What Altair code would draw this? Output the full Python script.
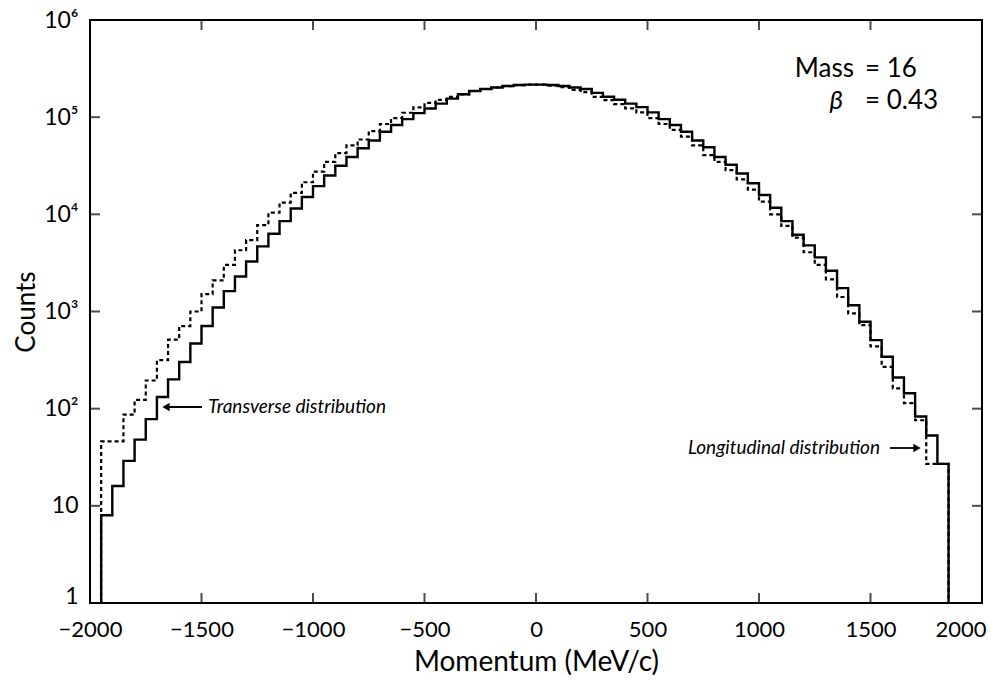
import altair as alt
import pandas as pd

# ---- data (counts per 50 MeV/c bin) ----
bin_start = -1950
bin_width = 50
transverse = [8, 16, 29, 48, 78, 132, 200, 302, 468, 708,
              1100, 1620, 2290, 3270, 4680, 6310, 8510, 11500, 15100, 19500,
              25100, 31600, 38900, 47900, 57500, 70800, 83200, 95500, 110000, 123000,
              138000, 155000, 172000, 186000, 195000, 202000, 209000, 214000, 216000, 216000,
              214000, 209000, 202000, 195000, 178000, 162000, 151000, 138000, 127000, 112000,
              95500, 83200, 70800, 57500, 49000, 38900, 32400, 26300, 20900, 15800,
              11700, 8510, 6170, 4790, 3610, 2630, 1740, 1160, 783, 508,
              342, 209, 144, 83, 53, 27]
longitudinal = [46, 46, 87, 123, 195, 316, 513, 708, 1000, 1510,
                2090, 3020, 4270, 5430, 7760, 10400, 13200, 16600, 21400, 27500,
                34700, 42700, 51300, 58900, 71800, 85100, 97700, 111000, 126000, 140000,
                151000, 162000, 172000, 186000, 195000, 202000, 209000, 214000, 216000, 216000,
                211000, 204000, 191000, 181000, 162000, 150000, 136000, 123000, 112000, 97700,
                85100, 74100, 63100, 51300, 40700, 34700, 28500, 22900, 18000, 13500,
                10000, 7590, 5750, 4070, 3020, 2140, 1410, 955, 724, 437,
                269, 162, 114, 76, 27, 27]
x_ticks = [-2000, -1500, -1000, -500, 0, 500, 1000, 1500, 2000]
y_ticks = [1, 10, 100, 1000, 10000, 100000, 1000000]
baseline = 1

FONT = "Lato"
W, H = 892, 583


def step_rows(values, name):
    rows = [{"p": bin_start, "c": baseline, "s": name, "o": 0}]
    for i, v in enumerate(values):
        rows.append({"p": bin_start + i * bin_width, "c": v, "s": name, "o": i + 1})
    rows.append({"p": bin_start + len(values) * bin_width, "c": baseline, "s": name,
                 "o": len(values) + 1})
    return rows


df = pd.DataFrame(step_rows(transverse, "Transverse") + step_rows(longitudinal, "Longitudinal"))

xs = alt.Scale(domain=[-2000, 2000], nice=False, zero=False)
ys = alt.Scale(type="log", domain=[1, 1000000], nice=False)

x_axis = alt.Axis(values=x_ticks, format="d", tickSize=0, domain=False, grid=False,
                  labelFont=FONT, labelFontSize=22, labelColor="black", labelPadding=16,
                  labelAlign={"condition": {"test": "datum.value == 2000", "value": "right"},
                              "value": "center"},
                  labelOffset={"condition": {"test": "datum.value == 2000", "value": 4},
                               "value": 0},
                  title="Momentum  (MeV/c)", titleFont=FONT, titleFontSize=28,
                  titleFontWeight="normal", titleColor="black", titlePadding=8)
y_axis = alt.Axis(values=y_ticks, tickSize=0, domain=False, grid=False,
                  labelFont=FONT, labelFontSize=23, labelColor="black", labelPadding=12,
                  labelBaseline={"condition": {"test": "datum.value == 1", "value": "alphabetic"},
                                 "value": "middle"},
                  labelExpr="datum.value < 50 ? datum.label : '10' + ['', '', '²', '³', '⁴', '⁵', '⁶'][round(log(datum.value) / LN10)]",
                  title="Counts", titleFont=FONT, titleFontSize=26,
                  titleFontWeight="normal", titleColor="black", titlePadding=4)

X = alt.X("p:Q", scale=xs, axis=x_axis)
Y = alt.Y("c:Q", scale=ys, axis=y_axis)

trans = alt.Chart(df).transform_filter("datum.s == 'Transverse'").mark_line(
    interpolate="step-after", color="black", strokeWidth=2.4
).encode(x=X, y=Y, order="o:Q")

longi = alt.Chart(df).transform_filter("datum.s == 'Longitudinal'").mark_line(
    interpolate="step-after", color="black", strokeWidth=2.2, strokeDash=[4, 3]
).encode(x=X, y=Y, order="o:Q")

# inward tick marks on all four sides
xt = pd.DataFrame({"p": x_ticks})
yt = pd.DataFrame({"c": y_ticks})
tick_b = alt.Chart(xt).mark_tick(orient="vertical", size=10, thickness=2, color="black").encode(
    x=X, y=alt.value(H - 5))
tick_t = alt.Chart(xt).mark_tick(orient="vertical", size=10, thickness=2, color="black").encode(
    x=X, y=alt.value(5))
tick_l = alt.Chart(yt).mark_tick(orient="horizontal", size=10, thickness=2, color="black").encode(
    y=Y, x=alt.value(5))
tick_r = alt.Chart(yt).mark_tick(orient="horizontal", size=10, thickness=2, color="black").encode(
    y=Y, x=alt.value(W - 5))

one = pd.DataFrame({"k": [0]})


def label(text, x, y, align, size, style="normal"):
    return alt.Chart(one).mark_text(text=text, align=align, baseline="middle", font=FONT,
                                    fontSize=size, fontStyle=style, color="black").encode(
        x=alt.value(x), y=alt.value(y))


mass_l = label("Mass", 764, 49, "right", 26)
mass_r = label("= 16", 775, 49, "left", 26)
beta_l = label("β", 753, 81, "right", 26, "italic")
beta_r = label("= 0.43", 775, 81, "left", 26)

t_text = label("Transverse distribution", 118, 387, "left", 19, "italic")
t_line = alt.Chart(one).mark_rule(color="black", strokeWidth=1.8).encode(
    x=alt.value(76), x2=alt.value(112), y=alt.value(387))
t_head = alt.Chart(one).mark_point(shape="triangle-left", filled=True, size=70,
                                   color="black", opacity=1).encode(
    x=alt.value(76), y=alt.value(387))

l_text = label("Longitudinal distribution", 790, 428, "right", 19, "italic")
l_line = alt.Chart(one).mark_rule(color="black", strokeWidth=1.8).encode(
    x=alt.value(800), x2=alt.value(827), y=alt.value(428))
l_head = alt.Chart(one).mark_point(shape="triangle-right", filled=True, size=70,
                                   color="black", opacity=1).encode(
    x=alt.value(827), y=alt.value(428))

chart = alt.layer(
    trans, longi, tick_b, tick_t, tick_l, tick_r,
    mass_l, mass_r, beta_l, beta_r,
    t_line, t_head, t_text, l_line, l_head, l_text
).properties(
    width=W, height=H,
    padding={"left": 90, "top": 20, "right": 13, "bottom": 77},
    autosize=alt.AutoSizeParams(type="none"),
    background="white"
).configure_view(stroke="black", strokeWidth=2)

chart.save("out.html", embed_options={"renderer": "svg", "actions": False})
